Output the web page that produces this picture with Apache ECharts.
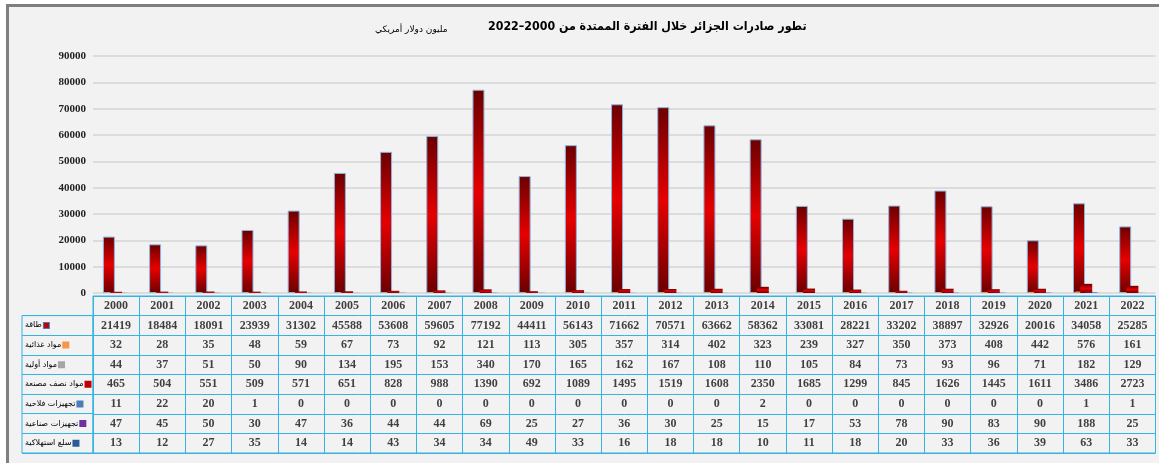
<!DOCTYPE html>
<html>
<head>
<meta charset="utf-8">
<script src="https://cdn.jsdelivr.net/npm/echarts@6/dist/echarts.min.js"></script>
<style>
  body { margin: 0; background: #fff; }
  #frame { position: absolute; left: 6px; top: 4px; right: 0; bottom: 0; background: #f2f2f2; border-left: 3px solid #7f7f7f; border-top: 3px solid #7f7f7f; }
  #main { position: absolute; left: 0; top: 0; width: 1159px; height: 463px; }
</style>
</head>
<body>
<div id="frame"></div>
<div id="main"></div>
<script>
var years = ['2000', '2001', '2002', '2003', '2004', '2005', '2006', '2007', '2008', '2009', '2010', '2011',
  '2012', '2013', '2014', '2015', '2016', '2017', '2018', '2019', '2020', '2021', '2022']
var seriesNames = ['طاقة', 'مواد غذائية', 'مواد أولية', 'مواد نصف مصنعة', 'تجهيزات فلاحية', 'تجهيزات صناعية', 'سلع استهلاكية']
var energy = [21419, 18484, 18091, 23939, 31302, 45588, 53608, 59605, 77192, 44411, 56143, 71662, 70571, 63662, 58362, 33081, 28221, 33202, 38897, 32926, 20016, 34058, 25285]
var food = [32, 28, 35, 48, 59, 67, 73, 92, 121, 113, 305, 357, 314, 402, 323, 239, 327, 350, 373, 408, 442, 576, 161]
var rawMat = [44, 37, 51, 50, 90, 134, 195, 153, 340, 170, 165, 162, 167, 108, 110, 105, 84, 73, 93, 96, 71, 182, 129]
var semiFinished = [465, 504, 551, 509, 571, 651, 828, 988, 1390, 692, 1089, 1495, 1519, 1608, 2350, 1685, 1299, 845, 1626, 1445, 1611, 3486, 2723]
var agriEquip = [11, 22, 20, 1, 0, 0, 0, 0, 0, 0, 0, 0, 0, 0, 2, 0, 0, 0, 0, 0, 0, 1, 1]
var indusEquip = [47, 45, 50, 30, 47, 36, 44, 44, 69, 25, 27, 36, 30, 25, 15, 17, 53, 78, 90, 83, 90, 188, 25]
var consumerGoods = [13, 12, 27, 35, 14, 14, 43, 34, 34, 49, 33, 16, 18, 18, 10, 11, 18, 20, 33, 36, 39, 63, 33]
var yMin = 0
var yMax = 90000
var yStep = 10000

var allSeries = [energy, food, rawMat, semiFinished, agriEquip, indusEquip, consumerGoods]
var keyColors = ['#c00000', '#f79646', '#a5a5a5', '#c00000', '#4a7ebb', '#7030a0', '#2c5d97']

var numFont = "'Liberation Serif', 'DejaVu Serif', serif"
var arFont = "'DejaVu Sans', sans-serif"
var titleFont = "'DejaVu Sans Condensed', 'DejaVu Sans', sans-serif"
var lineColor = '#35b3e3'

function redGradient () {
  return new echarts.graphic.LinearGradient(0, 0, 0, 1, [
    { offset: 0, color: '#6a0000' },
    { offset: 0.5, color: '#e60000' },
    { offset: 1, color: '#6a0000' }
  ])
}

// bars: 7 series, heavily overlapped like the excel chart
var barSeries = allSeries.map(function (vals, i) {
  var s = {
    name: seriesNames[i],
    type: 'bar',
    xAxisIndex: 0,
    yAxisIndex: 0,
    barWidth: 12,
    barGap: '-80%',
    data: vals,
    itemStyle: { color: keyColors[i] }
  }
  if (i === 0) {
    s.itemStyle = { color: redGradient(), borderColor: '#8fb3dd', borderWidth: 1 }
  } else if (i === 3) {
    s.itemStyle = { color: redGradient() }
  }
  return s
})

// table cells: header row with years, then one row per series
var tableRows = ['header'].concat(seriesNames)
var cellData = []
years.forEach(function (y, c) {
  cellData.push([c, 0, y])
  allSeries.forEach(function (vals, r) {
    cellData.push([c, r + 1, String(vals[c])])
  })
})

var richLabels = {
  t: { fontFamily: arFont, fontSize: 8, color: '#000', padding: [0, 2, 0, 0] }
}
keyColors.forEach(function (col, i) {
  richLabels['k' + i] = { width: 5, height: 5, backgroundColor: col, borderColor: i === 0 ? '#4a7ebb' : col, borderWidth: 1 }
})

var myChart = echarts.init(document.getElementById('main'), null, { renderer: 'canvas' })
myChart.setOption({
  backgroundColor: 'transparent',
  animation: false,
  title: [
    {
      text: 'تطور صادرات الجزائر خلال الفترة الممتدة من 2000–2022',
      left: 483,
      top: 16,
      textStyle: { fontFamily: titleFont, fontSize: 12.3, fontWeight: 'bold', color: '#000' }
    },
    {
      text: 'مليون دولار أمريكي',
      left: 370,
      top: 20,
      textStyle: { fontFamily: arFont, fontSize: 9, fontWeight: 'normal', color: '#000' }
    }
  ],
  grid: [
    { left: 93, right: 3.5, top: 56, height: 237, containLabel: false },
    { left: 93, right: 3.5, top: 296, height: 157, show: true, borderColor: lineColor, borderWidth: 1, backgroundColor: 'transparent' },
    { left: 22, width: 71, top: 315.6, height: 137.4, show: true, borderColor: lineColor, borderWidth: 1, backgroundColor: 'transparent' }
  ],
  xAxis: [
    {
      type: 'category',
      gridIndex: 0,
      data: years,
      axisLine: { show: false },
      axisTick: { show: false },
      axisLabel: { show: false }
    },
    {
      type: 'category',
      gridIndex: 1,
      data: years,
      axisLine: { show: false },
      axisTick: { show: false },
      axisLabel: { show: false, interval: 0 },
      splitLine: { show: true, interval: 0, lineStyle: { color: lineColor, width: 1 } }
    },
    {
      type: 'value',
      gridIndex: 2,
      min: 0,
      max: 1,
      show: false
    }
  ],
  yAxis: [
    {
      type: 'value',
      gridIndex: 0,
      min: yMin,
      max: yMax,
      interval: yStep,
      axisLine: { show: false },
      axisTick: { show: false },
      axisLabel: {
        margin: 7,
        fontFamily: numFont,
        fontSize: 11,
        fontWeight: 'bold',
        color: '#222',
        formatter: function (v) { return String(v) }
      },
      splitLine: { lineStyle: { color: '#dcdcdc', width: 2 } }
    },
    {
      type: 'category',
      gridIndex: 1,
      data: tableRows,
      inverse: true,
      axisLine: { show: false },
      axisTick: { show: false },
      axisLabel: { show: false, interval: 0 },
      splitLine: { show: true, interval: 0, lineStyle: { color: lineColor, width: 1 } }
    },
    {
      type: 'category',
      gridIndex: 2,
      data: seriesNames,
      inverse: true,
      axisLine: { show: false },
      axisTick: { show: false },
      axisLabel: {
        show: true,
        inside: true,
        interval: 0,
        margin: 3,
        formatter: function (v, i) {
          return '{t|' + v + '}{k' + i + '|}'
        },
        rich: richLabels
      },
      splitLine: { show: true, interval: 0, lineStyle: { color: lineColor, width: 1 } }
    }
  ],
  series: barSeries.concat([
    {
      type: 'scatter',
      xAxisIndex: 1,
      yAxisIndex: 1,
      symbolSize: 0.1,
      itemStyle: { color: 'rgba(0,0,0,0)' },
      silent: true,
      data: cellData,
      label: {
        show: true,
        position: 'inside',
        formatter: function (p) { return p.value[2] },
        fontFamily: numFont,
        fontSize: 12,
        fontWeight: 'bold',
        color: '#111'
      }
    }
  ])
})
</script>
</body>
</html>
